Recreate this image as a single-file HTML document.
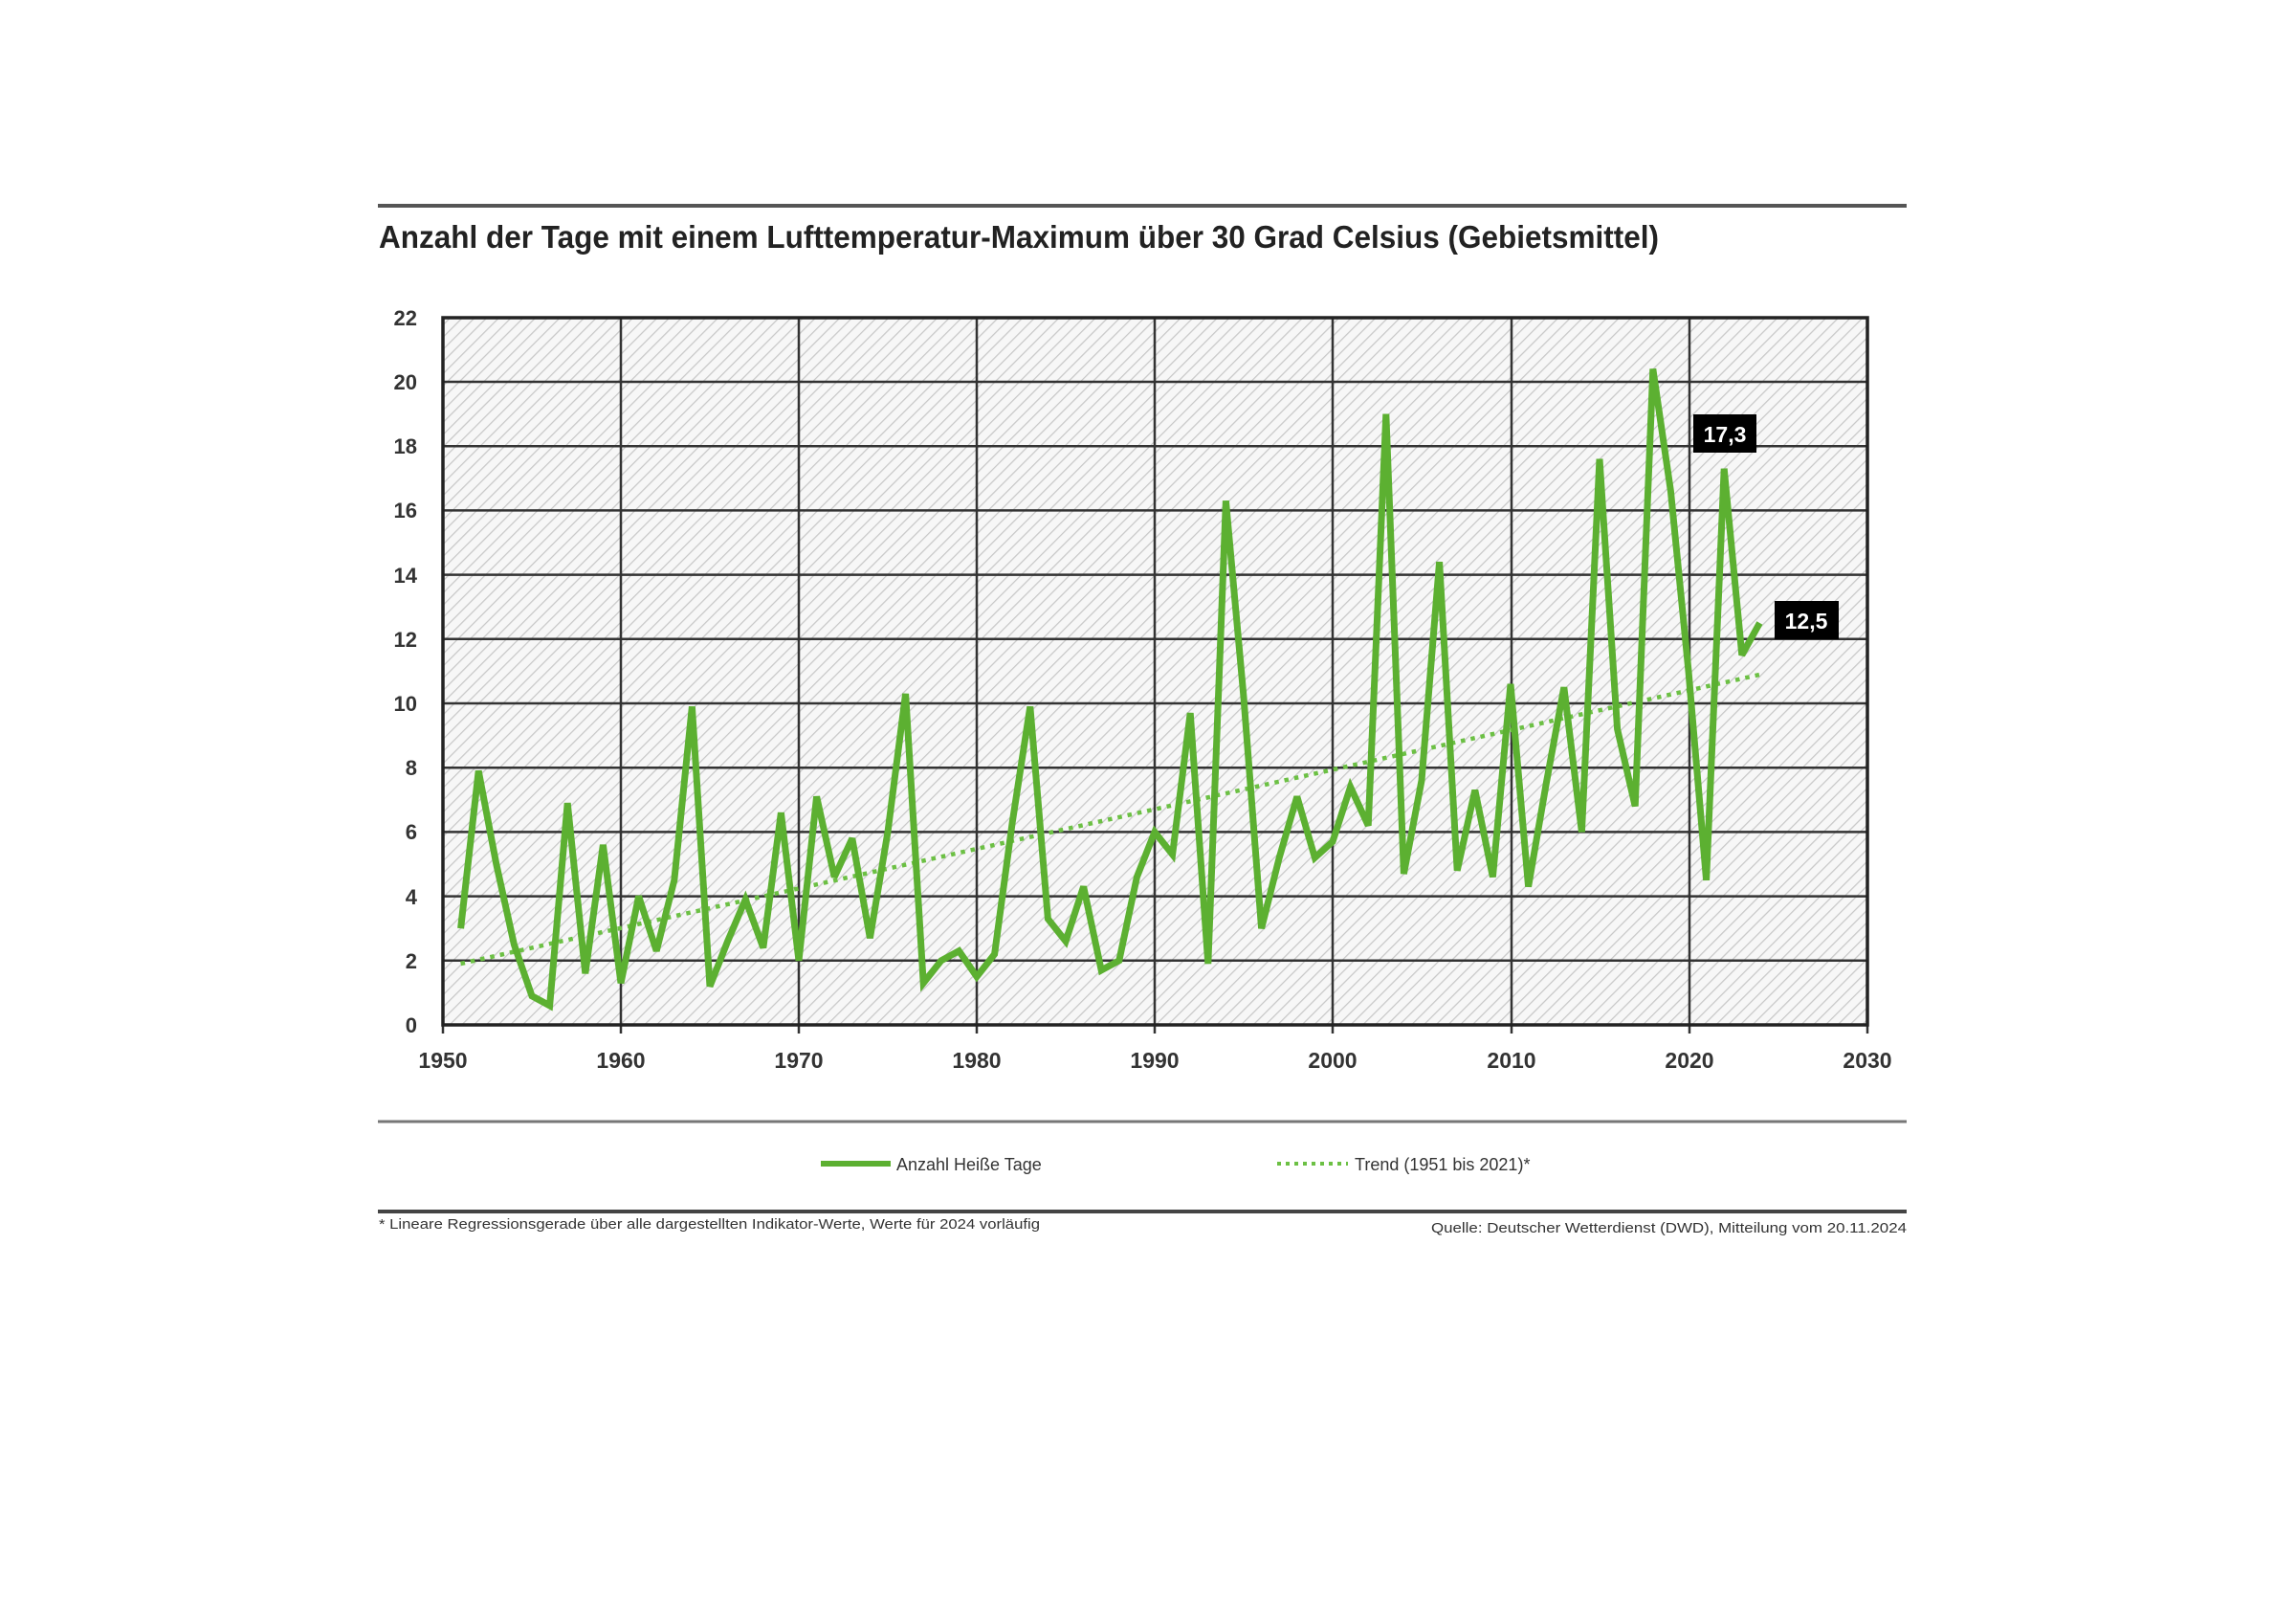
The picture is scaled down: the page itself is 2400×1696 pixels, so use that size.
<!DOCTYPE html>
<html><head><meta charset="utf-8"><style>
html,body{margin:0;padding:0;background:#fff;}
svg{display:block;}
text{font-family:"Liberation Sans",sans-serif;}
</style></head><body>
<svg width="2400" height="1696" viewBox="0 0 2400 1696" xmlns="http://www.w3.org/2000/svg">
<defs>
<pattern id="h" width="9" height="9" patternUnits="userSpaceOnUse" patternTransform="rotate(45)">
<rect width="9" height="9" fill="#f7f7f7"/>
<line x1="0" y1="0" x2="0" y2="9" stroke="#c8c8c8" stroke-width="2.5"/>
</pattern>
</defs>
<line x1="395" y1="215" x2="1993" y2="215" stroke="#555" stroke-width="4"/>
<text x="396" y="259" font-size="33" font-weight="bold" fill="#222" textLength="1338" lengthAdjust="spacingAndGlyphs">Anzahl der Tage mit einem Lufttemperatur-Maximum über 30 Grad Celsius (Gebietsmittel)</text>

<rect x="463" y="332" width="1489" height="739" fill="url(#h)"/>
<g stroke="#333" stroke-width="2.5">
<line x1="463" y1="1003.8" x2="1952" y2="1003.8"/><line x1="463" y1="936.6" x2="1952" y2="936.6"/>
<line x1="463" y1="869.4" x2="1952" y2="869.4"/><line x1="463" y1="802.2" x2="1952" y2="802.2"/>
<line x1="463" y1="735" x2="1952" y2="735"/><line x1="463" y1="667.8" x2="1952" y2="667.8"/>
<line x1="463" y1="600.6" x2="1952" y2="600.6"/><line x1="463" y1="533.4" x2="1952" y2="533.4"/>
<line x1="463" y1="466.2" x2="1952" y2="466.2"/><line x1="463" y1="399" x2="1952" y2="399"/>
<line x1="649" y1="332" x2="649" y2="1080"/><line x1="835" y1="332" x2="835" y2="1080"/>
<line x1="1021" y1="332" x2="1021" y2="1080"/><line x1="1207" y1="332" x2="1207" y2="1080"/>
<line x1="1393" y1="332" x2="1393" y2="1080"/><line x1="1580" y1="332" x2="1580" y2="1080"/>
<line x1="1766" y1="332" x2="1766" y2="1080"/>
<line x1="463" y1="1071" x2="463" y2="1080"/><line x1="1952" y1="1071" x2="1952" y2="1080"/>
</g>
<rect x="463" y="332" width="1489" height="739" fill="none" stroke="#222" stroke-width="3.5"/>

<g font-size="22" fill="#333" text-anchor="end" font-weight="bold">
<text x="436" y="1079">0</text><text x="436" y="1012">2</text><text x="436" y="945">4</text>
<text x="436" y="877">6</text><text x="436" y="810">8</text><text x="436" y="743">10</text>
<text x="436" y="676">12</text><text x="436" y="609">14</text><text x="436" y="541">16</text>
<text x="436" y="474">18</text><text x="436" y="407">20</text><text x="436" y="340">22</text>
</g>
<g font-size="23" fill="#333" text-anchor="middle" font-weight="bold">
<text x="463" y="1116">1950</text><text x="649" y="1116">1960</text><text x="835" y="1116">1970</text>
<text x="1021" y="1116">1980</text><text x="1207" y="1116">1990</text><text x="1393" y="1116">2000</text>
<text x="1580" y="1116">2010</text><text x="1766" y="1116">2020</text><text x="1952" y="1116">2030</text>
</g>

<line x1="481.6" y1="1007" x2="1839.4" y2="705" stroke="#6cc044" stroke-width="4.5" stroke-dasharray="4.5 6"/>
<g transform="translate(463,1071) scale(18.6,-33.6)">
<polyline fill="none" stroke="#5cb031" stroke-width="7" vector-effect="non-scaling-stroke" stroke-linejoin="miter" stroke-miterlimit="3"
points="1,3 2,7.9 3,5 4,2.5 5,0.9 6,0.6 7,6.9 8,1.6 9,5.6 10,1.3 11,4 12,2.3 13,4.5 14,9.9 15,1.2 16,2.6 17,3.9 18,2.4 19,6.6 20,2 21,7.1 22,4.6 23,5.8 24,2.7 25,6 26,10.3 27,1.3 28,2 29,2.3 30,1.5 31,2.2 32,6.3 33,9.9 34,3.3 35,2.6 36,4.3 37,1.7 38,2 39,4.6 40,6 41,5.3 42,9.7 43,1.9 44,16.3 45,10.2 46,3 47,5.2 48,7.1 49,5.2 50,5.7 51,7.4 52,6.2 53,19 54,4.7 55,7.6 56,14.4 57,4.8 58,7.3 59,4.6 60,10.6 61,4.3 62,7.5 63,10.5 64,6 65,17.6 66,9.2 67,6.8 68,20.4 69,16.6 70,11 71,4.5 72,17.3 73,11.5 74,12.5"/>
</g>

<rect x="1770" y="433" width="66" height="40" fill="#000"/>
<text x="1803" y="462" font-size="23" font-weight="bold" fill="#fff" text-anchor="middle">17,3</text>
<rect x="1855" y="628" width="67" height="40" fill="#000"/>
<text x="1888" y="657" font-size="23" font-weight="bold" fill="#fff" text-anchor="middle">12,5</text>

<line x1="395" y1="1172" x2="1993" y2="1172" stroke="#777" stroke-width="3"/>
<line x1="858" y1="1216" x2="931" y2="1216" stroke="#5cb031" stroke-width="6"/>
<text x="937" y="1223" font-size="18" fill="#333">Anzahl Heiße Tage</text>
<line x1="1335" y1="1216" x2="1409" y2="1216" stroke="#6cc044" stroke-width="4" stroke-dasharray="4 5"/>
<text x="1416" y="1223" font-size="18" fill="#333">Trend (1951 bis 2021)*</text>

<line x1="395" y1="1266" x2="1993" y2="1266" stroke="#444" stroke-width="4"/>
<text x="396" y="1284" font-size="15" fill="#333" textLength="691" lengthAdjust="spacingAndGlyphs">* Lineare Regressionsgerade über alle dargestellten Indikator-Werte, Werte für 2024 vorläufig</text>
<text x="1993" y="1288" font-size="15" fill="#333" text-anchor="end" textLength="497" lengthAdjust="spacingAndGlyphs">Quelle: Deutscher Wetterdienst (DWD), Mitteilung vom 20.11.2024</text>
</svg>
</body></html>
